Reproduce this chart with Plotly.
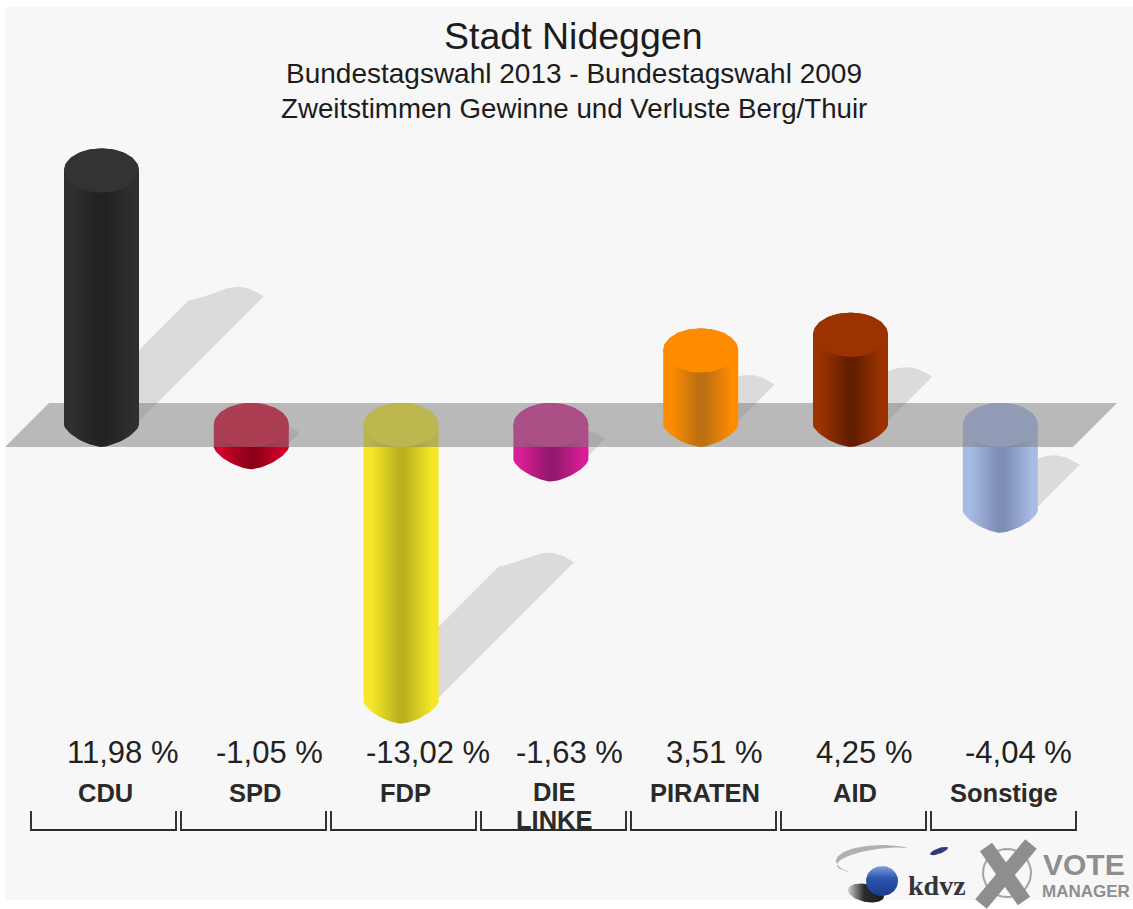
import numpy as np
import plotly.graph_objects as go

# ---------- data ----------
parties = ["CDU", "SPD", "FDP", "DIE<br>LINKE", "PIRATEN", "AID", "Sonstige"]
values = [11.98, -1.05, -13.02, -1.63, 3.51, 4.25, -4.04]
value_labels = ["11,98 %", "-1,05 %", "-13,02 %", "-1,63 %", "3,51 %", "4,25 %", "-4,04 %"]
edge_colors = ["#2f2f2f", "#d2002a", "#f6e826", "#d81e96", "#ff8c00", "#9c3200", "#a8bbe4"]
dark_colors = ["#222222", "#8c0018", "#bcb21e", "#96186e", "#bc7012", "#641e00", "#7c8eb4"]
cap_colors = ["#333333", "#dd002d", "#fff324", "#d82492", "#ff8c00", "#9b3200", "#a6baf0"]
title = "Stadt Nideggen"
subtitle1 = "Bundestagswahl 2013 - Bundestagswahl 2009"
subtitle2 = "Zweitstimmen Gewinne und Verluste Berg/Thuir"

# ---------- scale ----------
W, H = 1133, 909
X0, DX = 101.5, 149.8      # pixel of category 0, pixels per category
Y0, DY = 425.0, 21.25      # pixel of value 0, pixels per percentage point
RX, RY = 37.5 / DX, 22.0 / DY
SH = 10.4                  # shadow run per percentage point (pixels)
BG = "#f7f7f7"


def ux(px):
    return (px - X0) / DX


def uy(py):
    return (Y0 - py) / DY


fig = go.Figure()


def poly(xs, ys, color=None, gradient=None):
    kw = dict(fillgradient=gradient) if gradient else dict(fillcolor=color)
    fig.add_trace(go.Scatter(x=list(xs), y=list(ys), mode="lines", fill="toself",
                             line=dict(width=0), hoverinfo="skip", showlegend=False, **kw))


def shadow(i, v):
    L = SH * abs(v)
    yc = Y0 if v > 0 else Y0 + DY * abs(v)
    cx = X0 + DX * i
    t = np.linspace(0, 1, 30)
    tx = cx - 37.5 + L + 75 * t
    ty = yc - L - 4 * t - 11 * np.sin(np.pi * t ** 1.5)
    xs = np.r_[cx - 37.5, tx, cx + 37.5]
    ys = np.r_[yc, ty, yc - 4]
    poly(ux(xs), uy(ys), color="rgba(0,0,0,0.11)")


def cylinder(i, v):
    top = max(v, 0)
    bot = min(v, 0)
    a = np.linspace(0, np.pi, 40)
    tx = i - RX * np.cos(a)
    ty = top + RY * np.sin(a)
    e = 1.5
    c = np.cos(a)
    bx = i + RX * np.sign(c) * np.abs(c) ** (2 / e)
    by = bot - RY * np.sin(a) ** (2 / e)
    grad = dict(type="horizontal",
                colorscale=[[0, edge_colors[i]], [0.1, edge_colors[i]], [0.47, dark_colors[i]],
                            [0.56, dark_colors[i]], [0.92, edge_colors[i]], [1, edge_colors[i]]])
    poly(np.r_[tx, bx], np.r_[ty, by], gradient=grad)
    a2 = np.linspace(0, 2 * np.pi, 80)
    poly(i + RX * np.cos(a2), top + RY * np.sin(a2), color=cap_colors[i])


for i, v in enumerate(values):
    shadow(i, v)
for i, v in enumerate(values):
    if v < 0:
        cylinder(i, v)

# floor plane
poly(ux(np.array([5, 49, 1117, 1073, 5])), uy(np.array([447, 403, 403, 447, 447])),
     color="rgba(123,123,123,0.5)")

for i, v in enumerate(values):
    if v > 0:
        cylinder(i, v)

# brackets
bx, by = [], []
for i in range(len(parties)):
    l, r = 31 + 150 * i, 176 + 150 * i
    bx += [l, l, r, r, None]
    by += [811, 830, 830, 811, None]
fig.add_trace(go.Scatter(x=[None if p is None else ux(p) for p in bx],
                         y=[None if p is None else uy(p) for p in by],
                         mode="lines", line=dict(color="#2a2a2a", width=1.9),
                         hoverinfo="skip", showlegend=False))

# ---------- logo ----------
ang = np.linspace(-0.28 * np.pi, -1.25 * np.pi, 60)
thick = 5.5 * np.sin(np.linspace(0, np.pi, 60)) ** 1.2
ox, oy = 882 + 46 * np.cos(ang), 861 + 16 * np.sin(ang)
ix, iy = ox + thick * 0.2, oy + thick
poly(ux(np.r_[ox, ix[::-1]]), uy(np.r_[oy, iy[::-1]]), color="#b0b0b0")
t = np.linspace(0, 2 * np.pi, 50)
poly(ux(866 + 18 * np.cos(t)), uy(893 + 9 * np.sin(t) + 3 * np.cos(t)),
     gradient=dict(type="horizontal", colorscale=[[0, "#cfcfcf"], [0.45, "#2a2a2e"], [1, "#1c1c20"]]))
poly(ux(939 + 9 * np.cos(t)), uy(851 + 3 * np.sin(t) - 3 * np.cos(t)), color="#2f3c78")
poly(ux(882 + 16 * np.cos(t)), uy(881 + 15 * np.sin(t)),
     gradient=dict(type="vertical", colorscale=[[0, "#1c3c90"], [0.6, "#2c56b0"], [1, "#7ea0dc"]]))
fig.add_trace(go.Scatter(x=ux(1007 + 24 * np.cos(t)), y=uy(873 + 24 * np.sin(t)), mode="lines",
                         line=dict(color="#a4a4a4", width=2), hoverinfo="skip", showlegend=False))
fig.add_trace(go.Scatter(x=[ux(986), ux(1024), None, ux(1031), ux(981)],
                         y=[uy(847), uy(901), None, uy(844), uy(904)],
                         mode="lines", line=dict(color="#8e8e8e", width=15),
                         hoverinfo="skip", showlegend=False))

# ---------- text ----------
ann = []


def text(px, py, s, size, color="#1c1c1c", anchor="center", family="Liberation Sans"):
    ann.append(dict(x=ux(px), y=uy(py), xref="x", yref="y", text=s, showarrow=False,
                    xanchor=anchor, yanchor="middle", align="center",
                    font=dict(size=size, color=color, family=family)))


text(573.5, 36, title, 37.5)
text(573.5, 73, subtitle1, 28)
text(573.5, 108, subtitle2, 27.7)
for i, s in enumerate(value_labels):
    text(X0 + DX * i - 37, 752, s, 31, anchor="left", color="#222222")
for i, s in enumerate(parties):
    if "<br>" in s:
        a_, b_ = s.split("<br>")
        text(X0 + DX * i + 4, 792, "<b>" + a_ + "</b>", 25.5, color="#2a2a2a")
        text(X0 + DX * i + 4, 820, "<b>" + b_ + "</b>", 25.5, color="#2a2a2a")
    else:
        text(X0 + DX * i + 4, 793, "<b>" + s + "</b>", 25.5, color="#2a2a2a")
text(937, 885, "<b>kdvz</b>", 28, color="#33343c", family="Liberation Serif")
text(1041, 864, "<b>VOTE</b>", 30, color="#8e8e8e", anchor="left")
text(1040, 891, "<b>MANAGER</b>", 17, color="#8e8e8e", anchor="left")

fig.update_layout(
    width=W, height=H, margin=dict(l=0, r=0, t=0, b=0), paper_bgcolor="#ffffff", plot_bgcolor="#ffffff",
    showlegend=False, annotations=ann,
    xaxis=dict(range=[ux(0), ux(W)], visible=False, fixedrange=True),
    yaxis=dict(range=[uy(H), uy(0)], visible=False, fixedrange=True),
    shapes=[dict(type="rect", xref="x", yref="y", x0=ux(5), x1=ux(W), y0=uy(7), y1=uy(900),
                 fillcolor=BG, line=dict(width=0), layer="below")],
)
fig.write_html("out.html", config=dict(displayModeBar=False),
               post_script="document.body.style.margin='0';")
